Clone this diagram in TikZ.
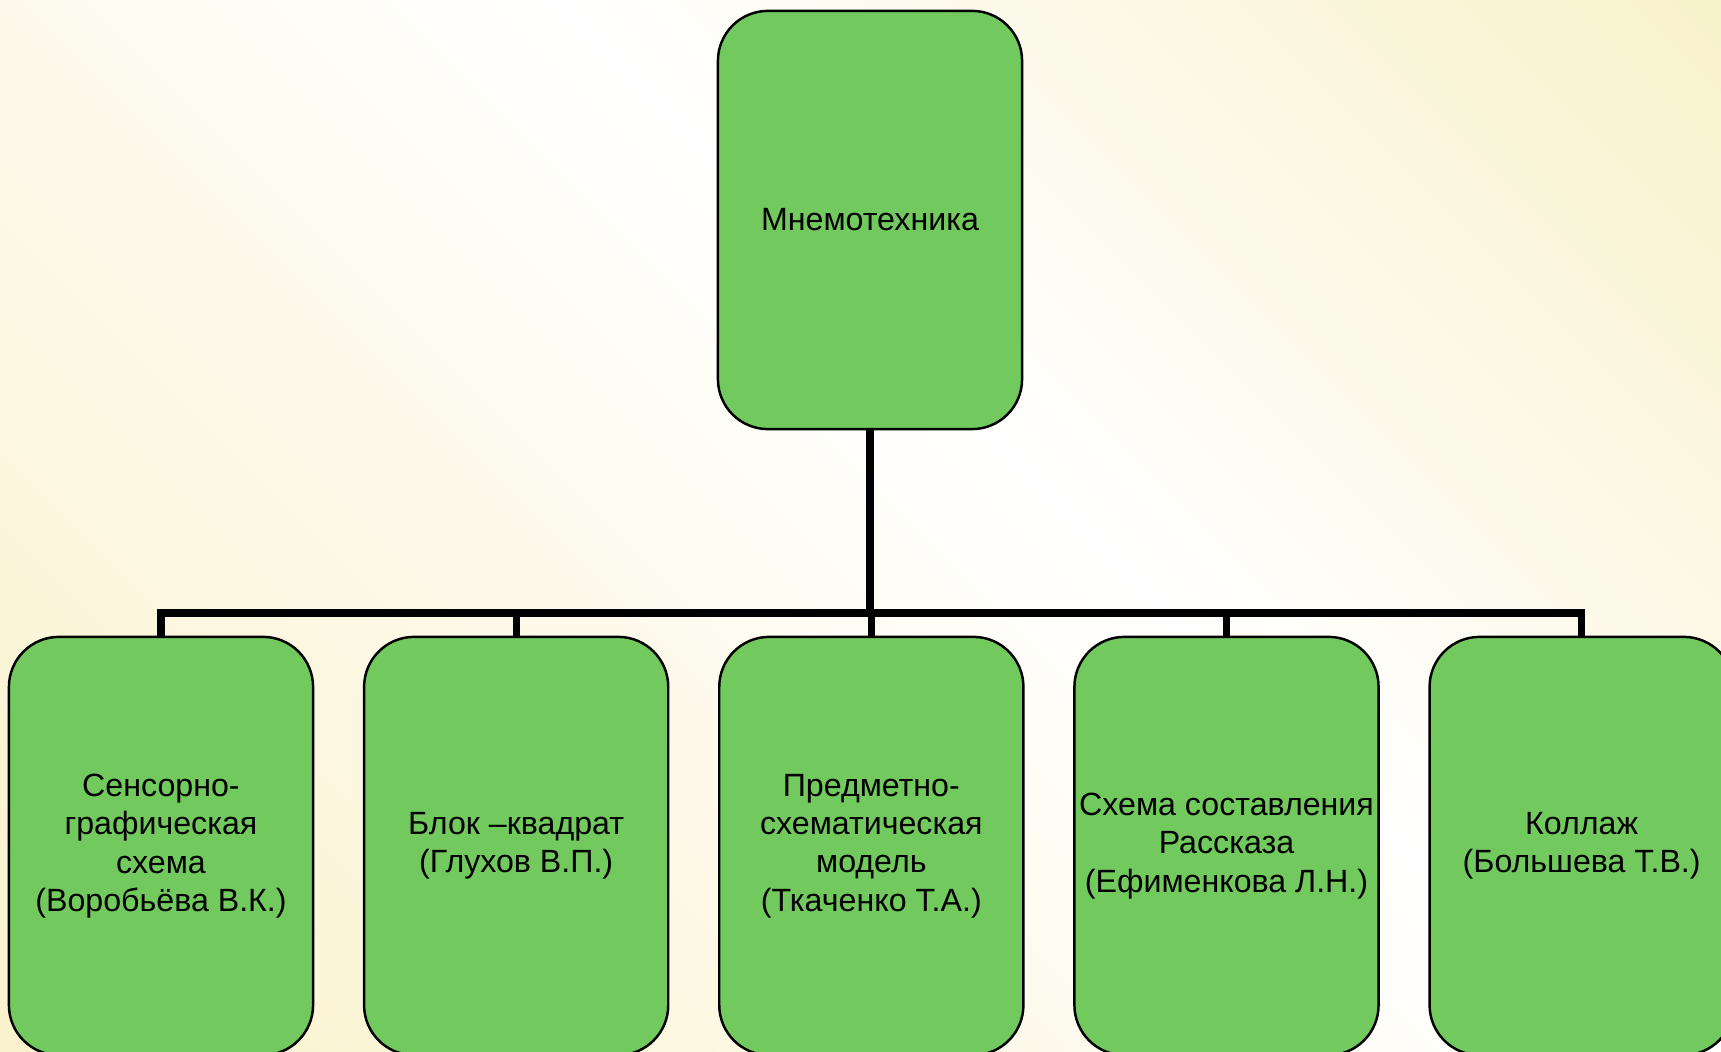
\documentclass[tikz,border=0pt]{standalone}
\usepackage{fontspec}
\setmainfont{Liberation Sans}
\usetikzlibrary{positioning}
\definecolor{boxgreen}{RGB}{114,201,94}
\definecolor{bgtop}{RGB}{246,237,184}
\definecolor{bgbottom}{RGB}{250,242,204}
\tikzset{font=\fontsize{9.15pt}{10.9pt}\selectfont}
\tikzset{mbox/.style={draw, line width=0.7pt, fill=boxgreen,
    rounded corners=0.5cm, minimum width=3.04cm, minimum height=4.18cm,
    inner sep=0pt, align=center}}
\tikzset{conn/.style={line width=2pt}}

\begin{document}
\begin{tikzpicture}[x=0.01cm,y=0.01cm,node distance=0.485cm]
  \useasboundingbox (0,0) rectangle (1721,1051);
  % background
  \begin{scope}
    \clip (0,0) rectangle (1721,1051);
    \shade[top color=bgtop, bottom color=bgbottom, middle color=white,
      shading angle=-45] (-19,-575) rectangle (2181,1625);
  \end{scope}

  \node[mbox] (top) at (870,831) {Мнемотехника};
  \node[mbox] (b1) at (161,205) {Сенсорно-\\графическая\\схема\\(Воробьёва В.К.)};
  \node[mbox, right=of b1] (b2) {Блок –квадрат\\(Глухов В.П.)};
  \node[mbox, right=of b2] (b3) {Предметно-\\схематическая\\модель\\(Ткаченко Т.А.)};
  \node[mbox, right=of b3] (b4) {Схема составления\\Рассказа\\(Ефименкова Л.Н.)};
  \node[mbox, right=of b4] (b5) {Коллаж\\(Большева Т.В.)};

  \coordinate (bar) at (870,438);
  \foreach \b in {b1,b2,b3,b4,b5}
    \draw[conn] (top.south) -- (bar) -| (\b.north);
\end{tikzpicture}
\end{document}
